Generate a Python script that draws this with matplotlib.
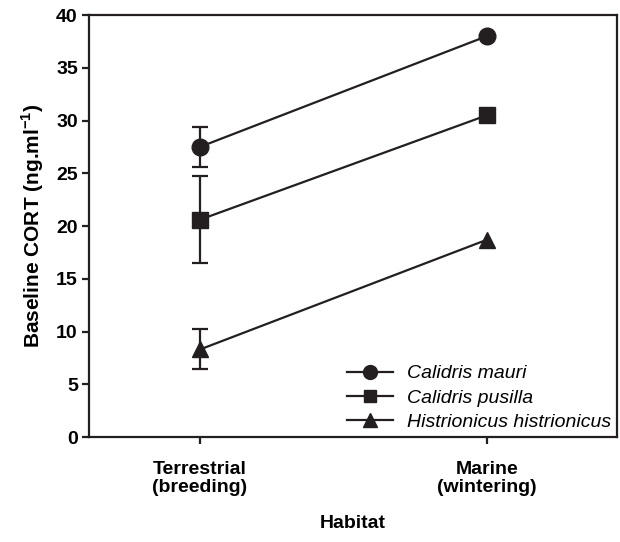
import matplotlib.pyplot as plt
from matplotlib.lines import Line2D

habitats = ['Terrestrial\n(breeding)', 'Marine\n(wintering)']
species = ['Calidris mauri', 'Calidris pusilla', 'Histrionicus histrionicus']
markers = ['o', 's', '^']
cort = [[27.5, 38.0], [20.6, 30.5], [8.3, 18.7]]
# error only shown at the terrestrial point
err = [1.9, 4.15, 1.9]
xpos = [1, 2]

plt.rcParams['font.family'] = ['Liberation Sans', 'DejaVu Sans']
plt.rcParams['mathtext.fontset'] = 'custom'
plt.rcParams['mathtext.bf'] = 'Liberation Sans:bold'
col = '#231f20'

fig = plt.figure(figsize=(6.2, 5.42), dpi=100)
ax = fig.add_axes([0.1435, 0.1937, 0.8515, 0.7786])

handles = []
for name, m, y, e in zip(species, markers, cort, err):
    ax.plot(xpos, y, color=col, lw=1.6, marker=m, ms=12 if m != 's' else 11,
            mfc=col, mec=col, zorder=3)
    ax.errorbar([xpos[0]], [y[0]], yerr=[e], fmt='none', ecolor=col,
                elinewidth=1.6, capsize=5.5, capthick=1.6, zorder=2)
    handles.append(Line2D([], [], color=col, lw=1.6, marker=m,
                          ms=10 if m != 's' else 9, mfc=col, mec=col))

ax.set_xlim(0.613, 2.453)
ax.set_ylim(0, 40)
ax.set_yticks(range(0, 41, 5))
ax.set_xticks(xpos)
ax.set_xticklabels(habitats, fontweight='bold', fontsize=14, linespacing=1.1)
for lab in ax.get_yticklabels():
    lab.set_fontweight('bold')
    lab.set_fontsize(14)
ax.tick_params(direction='out', length=5, width=1.6, color=col, pad=3)
ax.tick_params(axis='x', pad=12)
for s in ax.spines.values():
    s.set_linewidth(1.6)
    s.set_color(col)

ax.set_ylabel(r'Baseline CORT (ng.ml$^{\mathbf{-1}}$)', fontweight='bold',
              fontsize=15, labelpad=7)
ax.set_xlabel('Habitat', fontweight='bold', fontsize=14, labelpad=14)

leg = ax.legend(handles, species, loc='lower right', frameon=False,
                prop={'style': 'italic', 'size': 14}, handlelength=2.4,
                handletextpad=0.7, labelspacing=0.35,
                borderaxespad=0.0, borderpad=0.3)

fig.savefig('out.png', dpi=100)
